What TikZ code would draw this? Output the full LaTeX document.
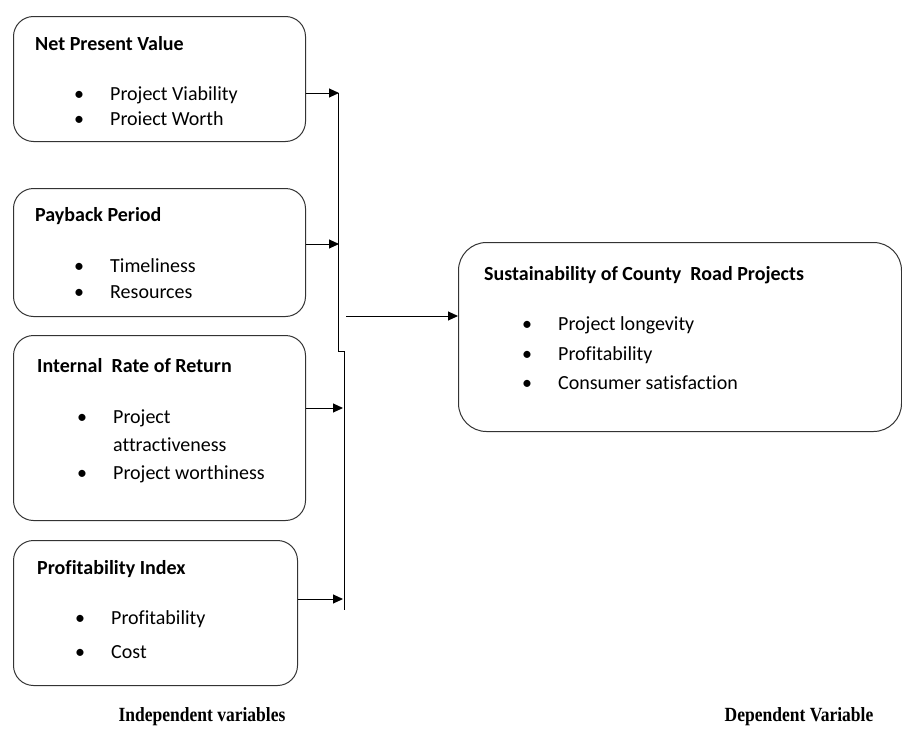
\documentclass[tikz,border=0pt]{standalone}
\usepackage{fontspec}
\setmainfont{Carlito}[Ligatures=CommonOff]
\newfontfamily\capfont{Liberation Serif}
\usepackage{graphicx}
\usepackage{tikz}
\usetikzlibrary{arrows.meta,positioning}

\newcommand{\bodyfont}{\fontsize{20}{24}\selectfont}
\newcommand{\bitem}[1]{\makebox[36pt][l]{\textbullet}#1}
\newcommand{\captext}[1]{\scalebox{1}[1.15]{#1}}

\begin{document}
\begin{tikzpicture}[
  x=1pt, y=-1pt,
  every node/.style={inner sep=0pt},
  box/.style={draw=black!80, line width=1pt, rounded corners=20pt, anchor=north west},
  head/.style={anchor=base west, font=\bodyfont\bfseries},
  item/.style={anchor=base west, font=\bodyfont},
  caption/.style={anchor=base, font=\capfont\bfseries\fontsize{17.5}{20}\selectfont},
  arr/.style={-{Triangle[length=10pt,width=9pt]}, line width=1pt}
]
\useasboundingbox (0,0) rectangle (902,744);

% independent variables
\node[box, minimum width=292pt, minimum height=125pt] (npv) at (13,16) {};
\node[head] (npvh) at (35,50) {Net Present Value};
\node[item] (npv1) at (74,100) {\bitem{Project Viability}};
\node[item] (npv2) at (74,125) {\bitem{Proiect Worth}};

\node[box, minimum width=292pt, minimum height=128pt] (pbp) at (13,188) {};
\node[head] (pbph) at (35,221) {Payback Period};
\node[item] (pbp1) at (74,272) {\bitem{Timeliness}};
\node[item] (pbp2) at (74,298) {\bitem{Resources}};

\node[box, minimum width=292pt, minimum height=185pt] (irr) at (13,335) {};
\node[head] (irrh) at (37,372) {Internal\ \ Rate of Return};
\node[item] (irr1) at (77,423) {\bitem{Project}};
\node[item] (irr1b) at (113,451) {attractiveness};
\node[item] (irr2) at (77,479) {\bitem{Project worthiness}};

\node[box, minimum width=284pt, minimum height=145pt] (pi) at (13,540) {};
\node[head] (pih) at (37,574) {Profitability Index};
\node[item] (pi1) at (75,624) {\bitem{Profitability}};
\node[item] (pi2) at (75,658) {\bitem{Cost}};

% dependent variable
\node[box, rounded corners=28pt, minimum width=443pt, minimum height=189pt] (sust) at (458,242) {};
\node[head] (susth) at (484,280) {Sustainability of County\ \ Road Projects};
\node[item] (sust1) at (522,330) {\bitem{Project longevity}};
\node[item] (sust2) at (522,360) {\bitem{Profitability}};
\node[item] (sust3) at (522,389) {\bitem{Consumer satisfaction}};

% collecting line
\coordinate (bt) at (338,93);
\coordinate (bm) at (338,351);
\coordinate (bm2) at (344,351);
\coordinate (bb) at (344,610);
\draw[line width=1pt] (bt) -- (bm) -- (bm2) -- (bb);

\coordinate (j1) at (339,93);
\coordinate (j2) at (339,244);
\coordinate (j3) at (343,408);
\coordinate (j4) at (343,599);
\draw[arr] (npv.east |- j1) -- (j1);
\draw[arr] (pbp.east |- j2) -- (j2);
\draw[arr] (irr.east |- j3) -- (j3);
\draw[arr] (pi.east |- j4) -- (j4);

\coordinate (ms) at (346,316);
\draw[arr] (ms) -- (sust.west |- ms);

\node[caption] (indep) at (202,721) {\captext{Independent variables}};
\node[caption] (dep) at (799,721) {\captext{Dependent Variable}};
\end{tikzpicture}
\end{document}
